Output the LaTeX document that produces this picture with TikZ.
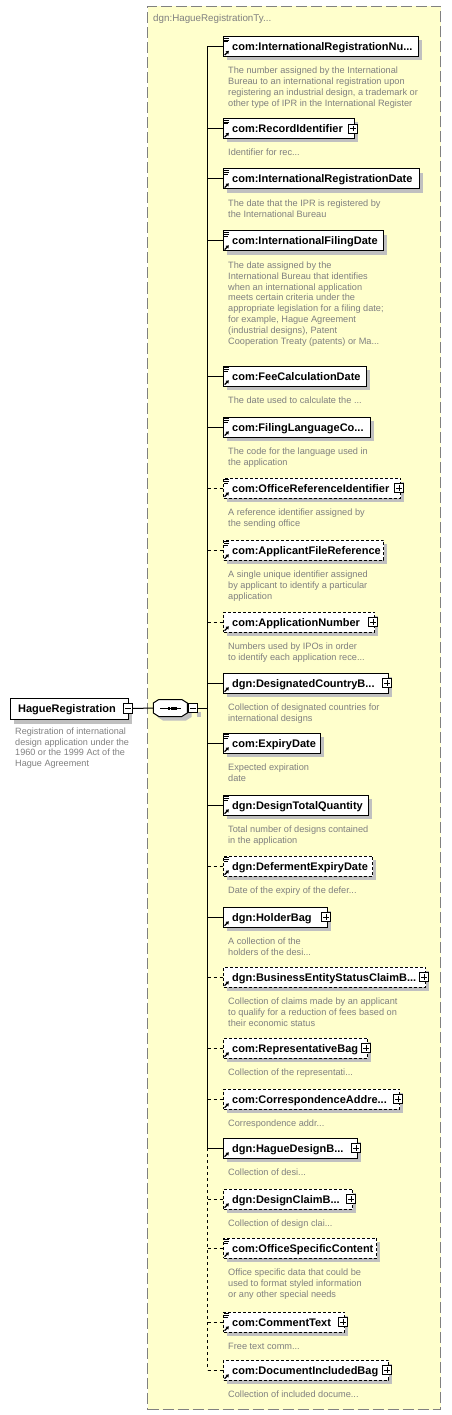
\documentclass[tikz,border=0pt]{standalone}
\usepackage{fontspec}
\setmainfont{Liberation Sans}
\definecolor{typefill}{RGB}{255,255,204}
\definecolor{typeborder}{RGB}{128,128,128}
\definecolor{desctext}{RGB}{128,128,128}
\definecolor{shadowc}{RGB}{192,192,192}
\tikzset{
  elbox/.style={draw=black, fill=white, line width=1pt, minimum height=20pt, inner sep=0pt, anchor=west},
  optbox/.style={dash pattern=on 3pt off 2pt},
  solidbox/.style={},
  eltext/.style={font=\fontsize{11}{13}\selectfont\bfseries, inner sep=0pt, anchor=base west},
  desc/.style={font=\fontsize{9.2}{10.8}\selectfont, text=desctext, align=left, inner sep=0pt, anchor=north west},
  conn/.style={line width=1pt, black},
  optconn/.style={conn, dash pattern=on 3pt off 3pt},
  expbox/.style={draw=black, fill=white, line width=0.8pt, minimum width=9pt, minimum height=9pt, inner sep=0pt},
  icon/.style={line width=0.8pt, black},
}
% #1 name, #2 centre y, #3 right x, #4 label, #5 box style, #6 description
\newcommand\xel[6]{%
  \fill[shadowc] (227,#2-6) rectangle (#3+4,#2+14);
  \node[elbox,#5,minimum width=#3-223] (#1) at (223,#2) {};
  \node[eltext] (#1t) at (232,#2+4) {#4};
  \draw[line width=1.2pt] (224.6,#2+8.6) -- (227,#2+6.2);
  \fill (228.9,#2+4.3) -- (225.6,#2+4.9) -- (228.3,#2+7.6) -- cycle;
  \node[desc] (#1d) at (228,#2+20.3) {\rule{0pt}{7pt}#6};
}
\newcommand\xlines[1]{%
  \draw[icon] (224,#1-8.3) -- (229,#1-8.3) (224,#1-6.5) -- (229,#1-6.5) (224,#1-4.7) -- (227.6,#1-4.7);
}
% #1 name, #2 right x, #3 centre y
\newcommand\xplus[3]{%
  \node[expbox] (#1p) at (#2-1,#3) {};
  \draw[icon] ([xshift=-2.7pt]#1p.center) -- ([xshift=2.7pt]#1p.center)
              ([yshift=-2.7pt]#1p.center) -- ([yshift=2.7pt]#1p.center);
}
\begin{document}
\begin{tikzpicture}[x=1pt,y=-1pt]
\useasboundingbox (0,0) rectangle (451,1415);
% type box
\node[draw=typeborder, fill=typefill, line width=1pt, dash pattern=on 11pt off 4pt,
      minimum width=293pt, minimum height=1403pt, inner sep=0pt, anchor=north west] (typebox) at (147,6) {};
\node[font=\fontsize{9.8}{11}\selectfont, text=typeborder, inner sep=0pt, anchor=base west] (title) at (153,21.5) {dgn:HagueRegistrationTy...};

% root element
\fill[shadowc] (14,702.5) rectangle (132,723.5);
\node[draw=black, fill=white, line width=1pt, minimum width=118pt, minimum height=21pt, inner sep=0pt] (hr) at (69,708.5) {};
\node[font=\fontsize{11}{13}\selectfont\bfseries, inner sep=0pt, anchor=base] (hrt) at (67,712.5) {HagueRegistration};
\node[expbox, minimum height=9.5pt] (hrm) at (127.8,708.5) {};
\draw[icon] ([xshift=-2.7pt]hrm.center) -- ([xshift=2.7pt]hrm.center);
\node[desc, font=\fontsize{9.1}{10.7}\selectfont] (hrd) at (15,727.3) {\rule{0pt}{7pt}Registration of international\\design application under the\\1960 or the 1999 Act of the\\Hague Agreement};

% sequence compositor
\fill[shadowc] (157.5,707) -- (163,703.5) -- (186,703.5) -- (191.5,707) -- (191.5,717) -- (186,720.5) -- (163,720.5) -- (157.5,717) -- cycle;
\node[minimum width=34pt, minimum height=17pt, inner sep=0pt] (seq) at (170.5,708) {};
\draw[line width=1pt, fill=white] (seq.west) ++(0,-5) -- ++(5.5,-3.5) -- ++(23,0) -- ++(5.5,3.5) -- ++(0,10) -- ++(-5.5,3.5) -- ++(-23,0) -- ++(-5.5,-3.5) -- cycle;
\draw[line width=1pt] ([xshift=-10.5pt]seq.center) -- ([xshift=10.5pt]seq.center);
\fill (168.2,706.5) rectangle (170.4,709.5);
\fill (171.3,706.5) rectangle (173.5,709.5);
\fill (174.4,706.5) rectangle (176.6,709.5);
\fill[shadowc] (197,712) rectangle (201,717);
\node[expbox, minimum height=9.5pt] (seqm) at (192.8,708) {};
\draw[icon] ([xshift=-2.7pt]seqm.center) -- ([xshift=2.7pt]seqm.center);
\draw[conn] (hrm.east) -- (seq.west);

% children
\xel{e1}{46.5}{418}{com:InternationalRegistrationNu...}{solidbox}{The number assigned by the International\\Bureau to an international registration upon\\registering an industrial design, a trademark or\\other type of IPR in the International Register}
\xlines{46.5}
\xel{e2}{128.5}{354}{com:RecordIdentifier}{solidbox}{Identifier for rec...}
\xlines{128.5}\xplus{e2}{354}{128.5}
\xel{e3}{179}{419}{com:InternationalRegistrationDate}{solidbox}{The date that the IPR is registered by\\the International Bureau}
\xlines{179}
\xel{e4}{241}{383}{com:InternationalFilingDate}{solidbox}{The date assigned by the\\International Bureau that identifies\\when an international application\\meets certain criteria under the\\appropriate legislation for a filing date;\\for example, Hague Agreement\\(industrial designs), Patent\\Cooperation Treaty (patents) or Ma...}
\xlines{241}
\xel{e5}{376}{366}{com:FeeCalculationDate}{solidbox}{The date used to calculate the ...}
\xlines{376}
\xel{e6}{427}{370}{com:FilingLanguageCo...}{solidbox}{The code for the language used in\\the application}
\xlines{427}
\xel{e7}{488}{400}{com:OfficeReferenceIdentifier}{optbox}{A reference identifier assigned by\\the sending office}
\xlines{488}\xplus{e7}{400}{488}
\xel{e8}{550}{383}{com:ApplicantFileReference}{optbox}{A single unique identifier assigned\\by applicant to identify a particular\\application}
\xlines{550}
\xel{e9}{622}{374}{com:ApplicationNumber}{optbox}{Numbers used by IPOs in order\\to identify each application rece...}
\xplus{e9}{374}{622}
\xel{e10}{683}{388}{dgn:DesignatedCountryB...}{solidbox}{Collection of designated countries for\\international designs}
\xplus{e10}{388}{683}
\xel{e11}{743}{320}{com:ExpiryDate}{solidbox}{Expected expiration\\date}
\xlines{743}
\xel{e12}{805}{368}{dgn:DesignTotalQuantity}{solidbox}{Total number of designs contained\\in the application}
\xlines{805}
\xel{e13}{866}{372}{dgn:DefermentExpiryDate}{optbox}{Date of the expiry of the defer...}
\xlines{866}
\xel{e14}{917}{327}{dgn:HolderBag}{solidbox}{A collection of the\\holders of the desi...}
\xplus{e14}{327}{917}
\xel{e15}{977}{425}{dgn:BusinessEntityStatusClaimB...}{optbox}{Collection of claims made by an applicant\\to qualify for a reduction of fees based on\\their economic status}
\xplus{e15}{425}{977}
\xel{e16}{1048}{367}{com:RepresentativeBag}{optbox}{Collection of the representati...}
\xplus{e16}{367}{1048}
\xel{e17}{1099}{399}{com:CorrespondenceAddre...}{optbox}{Correspondence addr...}
\xplus{e17}{399}{1099}
\xel{e18}{1148}{357}{dgn:HagueDesignB...}{solidbox}{Collection of desi...}
\xplus{e18}{357}{1148}
\xel{e19}{1199}{352}{dgn:DesignClaimB...}{optbox}{Collection of design clai...}
\xplus{e19}{352}{1199}
\xel{e20}{1248}{376}{com:OfficeSpecificContent}{optbox}{Office specific data that could be\\used to format styled information\\or any other special needs}
\xlines{1248}
\xel{e21}{1322}{344}{com:CommentText}{optbox}{Free text comm...}
\xlines{1322}\xplus{e21}{344}{1322}
\xel{e22}{1370}{388}{com:DocumentIncludedBag}{optbox}{Collection of included docume...}
\xplus{e22}{388}{1370}

% spine
\coordinate (spine) at (207.5,0);
\draw[conn] (spine |- e1.west) -- (spine |- e18.west);
\draw[optconn] (spine |- e18.west) -- (spine |- e22.west);
\draw[conn] (seqm.east) -- (spine |- seqm.east);
\foreach \n in {e1,e2,e3,e4,e5,e6,e10,e11,e12,e14,e18}{\draw[conn] (spine |- \n.west) -- (\n.west);}
\foreach \n in {e7,e8,e9,e13,e15,e16,e17,e19,e20,e21,e22}{\draw[optconn] (spine |- \n.west) -- (\n.west);}
\end{tikzpicture}
\end{document}
